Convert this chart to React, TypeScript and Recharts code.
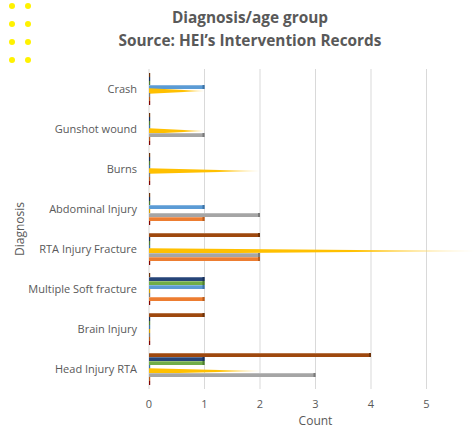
import React from "react";
import { BarChart, Bar, XAxis, YAxis, CartesianGrid, Label } from "recharts";

const categories = [
  "Crash",
  "Gunshot wound",
  "Burns",
  "Abdominal Injury",
  "RTA Injury Fracture",
  "Multiple Soft fracture",
  "Brain Injury",
  "Head Injury RTA",
];

// series, listed top to bottom as drawn inside each group
const brown = [0, 0, 0, 0, 2, 0, 1, 4];
const darkBlue = [0, 0, 0, 0, 0, 1, 0, 1];
const green = [0, 0, 0, 0, 0, 1, 0, 1];
const lightBlue = [1, 0, 0, 1, 0, 1, 0, 0];
const yellow = [1, 1, 2, 0, 6, 0, 0, 2];
const gray = [0, 1, 0, 2, 2, 0, 0, 3];
const orange = [0, 0, 0, 1, 2, 1, 0, 0];
const red = [0, 0, 0, 0, 0, 0, 0, 0];

const xTicks = [0, 1, 2, 3, 4, 5];

const SERIES = [
  { key: "brown", values: brown, color: "#9E480E", edge: "#6e3209" },
  { key: "darkBlue", values: darkBlue, color: "#264478", edge: "#18305a" },
  { key: "green", values: green, color: "#70AD47", edge: "#4e7d30" },
  { key: "lightBlue", values: lightBlue, color: "#5B9BD5", edge: "#3d73a6" },
  { key: "yellow", values: yellow, color: "#FFC000", edge: "#d9a300" },
  { key: "gray", values: gray, color: "#A5A5A5", edge: "#7a7a7a" },
  { key: "orange", values: orange, color: "#ED7D31", edge: "#b85c1d" },
  { key: "red", values: red, color: "#C00000", edge: "#800000" },
];

const data = categories.map((name, i) => {
  const row: Record<string, string | number> = { name };
  SERIES.forEach((s) => (row[s.key] = s.values[i]));
  return row;
});

const FONT = "'Open Sans', 'Noto Sans', sans-serif";
const TEXT = "#595959";

// zero values keep a thin sliver at the base, like the 3D bars in the original
function Bar3D(props: any) {
  const { x, y, width, height, fill, edge } = props;
  if (width == null || width <= 0) return null;
  if (width < 2) {
    return <rect x={x} y={y} width={1.2} height={height} fill={edge} />;
  }
  const cap = Math.min(2, width);
  return (
    <g>
      <rect x={x} y={y} width={width} height={height} fill={fill} />
      <rect x={x} y={y} width={width} height={1} fill="#ffffff" opacity={0.25} />
      <rect x={x + width - cap} y={y} width={cap} height={height} fill={edge} />
    </g>
  );
}

function Cone(props: any) {
  const { x, y, width, height } = props;
  if (width == null || width <= 0) return null;
  if (width < 2) {
    return <rect x={x} y={y} width={1.2} height={height} fill="#d9a300" />;
  }
  const mid = y + height / 2;
  const half = height * 0.7;
  return (
    <polygon
      points={`${x},${mid - half} ${x + width},${mid} ${x},${mid + half}`}
      fill="url(#coneFill)"
    />
  );
}

export default function App() {
  return (
    <div
      style={{
        position: "absolute",
        left: 0,
        top: 0,
        width: 475,
        height: 429,
        overflow: "hidden",
        background: "#fff",
        fontFamily: FONT,
      }}
    >
      {[12, 28].map((cx) =>
        [6, 24, 42, 60].map((cy) => (
          <div
            key={`${cx}-${cy}`}
            style={{
              position: "absolute",
              left: cx - 3,
              top: cy - 3,
              width: 6,
              height: 6,
              borderRadius: 3,
              background: "#FFF200",
            }}
          />
        ))
      )}
      <div
        style={{
          position: "absolute",
          left: 0,
          top: 6,
          width: 500,
          textAlign: "center",
          color: TEXT,
          fontWeight: 700,
          fontSize: 15.4,
          lineHeight: "23px",
        }}
      >
        Diagnosis/age group
        <br />
        Source: HEI’s Intervention Records
      </div>
      <div style={{ position: "absolute", left: 0, top: 0 }}>
        <BarChart
          width={500}
          height={429}
          data={data}
          layout="vertical"
          margin={{ top: 69, right: 18, bottom: 4, left: 8 }}
          barCategoryGap="10%"
          barGap={0}
        >
          <defs>
            <linearGradient id="coneFill" x1="0" y1="0" x2="1" y2="0">
              <stop offset="0%" stopColor="#FFC000" />
              <stop offset="60%" stopColor="#FFC000" />
              <stop offset="100%" stopColor="#FFE9A8" />
            </linearGradient>
          </defs>
          <CartesianGrid horizontal={false} stroke="#d9d9d9" />
          <XAxis
            type="number"
            domain={[0, 6]}
            ticks={xTicks}
            height={36}
            axisLine={false}
            tickLine={false}
            tickSize={0}
            tickMargin={11}
            tick={{ fill: TEXT, fontSize: 11, fontFamily: FONT }}
          >
            <Label
              value="Count"
              position="insideBottom"
              offset={0}
              fill={TEXT}
              fontSize={12}
              fontFamily={FONT}
            />
          </XAxis>
          <YAxis
            type="category"
            dataKey="name"
            width={141}
            axisLine={false}
            tickLine={false}
            tickSize={0}
            tickMargin={12}
            interval={0}
            tick={{ fill: TEXT, fontSize: 11, fontFamily: FONT }}
          >
            <Label
              value="Diagnosis"
              angle={-90}
              position="insideLeft"
              offset={12}
              fill={TEXT}
              fontSize={12}
              fontFamily={FONT}
              style={{ textAnchor: "middle" }}
            />
          </YAxis>
          {SERIES.map((s) => (
            <Bar
              key={s.key}
              dataKey={s.key}
              fill={s.color}
              minPointSize={1}
              isAnimationActive={false}
              shape={
                s.key === "yellow" ? (
                  <Cone />
                ) : (
                  <Bar3D edge={s.edge} />
                )
              }
            />
          ))}
        </BarChart>
      </div>
    </div>
  );
}
